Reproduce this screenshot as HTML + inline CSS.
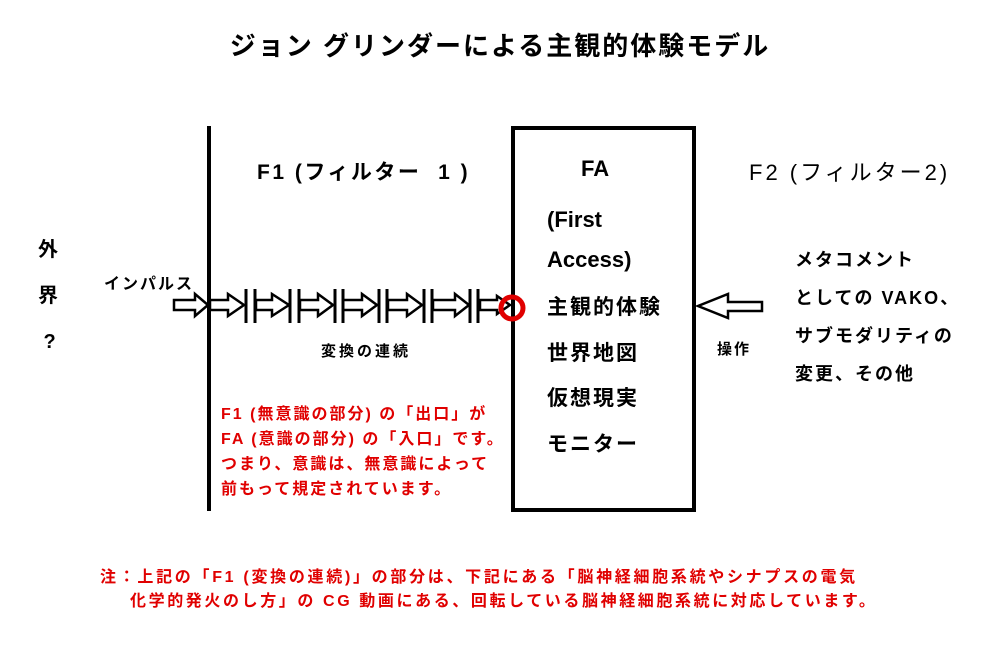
<!DOCTYPE html>
<html><head><meta charset="utf-8"><style>
body{margin:0;width:1000px;height:646px;background:#fff;position:relative;overflow:hidden;font-family:"Liberation Sans","Noto Sans CJK JP",sans-serif;font-weight:bold;color:#000}
.t{position:absolute;white-space:nowrap}
.r{color:#e00000}
</style></head><body>
<div class="t" style="left:0;width:1000px;text-align:center;top:26px;font-size:26px;letter-spacing:2px">ジョン グリンダーによる主観的体験モデル</div>
<svg width="1000" height="646" style="position:absolute;left:0;top:0">
<rect x="513" y="128" width="181" height="382" fill="none" stroke="#000" stroke-width="4"/>
<line x1="209" y1="126" x2="209" y2="511" stroke="#000" stroke-width="4"/>
<g fill="#fff" stroke="#000" stroke-width="2.5">
<polygon points="174,300 195,300 195,294 208,305 195,316 195,310 174,310"/>
<polygon points="210,300 228,300 228,294 244,305 228,316 228,310 210,310"/>
<polygon points="256,300 272,300 272,294 289,305 272,316 272,310 256,310"/>
<polygon points="300,300 318,300 318,294 333,305 318,316 318,310 300,310"/>
<polygon points="343,300 362,300 362,294 377,305 362,316 362,310 343,310"/>
<polygon points="388,300 407,300 407,294 422,305 407,316 407,310 388,310"/>
<polygon points="433,300 455,300 455,294 469,305 455,316 455,310 433,310"/>
<polygon points="480,300 497,300 497,296 510,305 497,314 497,310 480,310"/>
<polygon points="762,302 728,302 728,294 698,306 728,318 728,311 762,311"/>
</g>
<g stroke="#000" stroke-width="3">
<line x1="246" y1="289" x2="246" y2="323"/><line x1="255" y1="289" x2="255" y2="323"/>
<line x1="290" y1="289" x2="290" y2="323"/><line x1="299" y1="289" x2="299" y2="323"/>
<line x1="335" y1="289" x2="335" y2="323"/><line x1="343" y1="289" x2="343" y2="323"/>
<line x1="379" y1="289" x2="379" y2="323"/><line x1="387" y1="289" x2="387" y2="323"/>
<line x1="424" y1="289" x2="424" y2="323"/><line x1="432" y1="289" x2="432" y2="323"/>
<line x1="470" y1="289" x2="470" y2="323"/><line x1="478" y1="289" x2="478" y2="323"/>
</g>
<circle cx="512" cy="308" r="11" fill="none" stroke="#e00000" stroke-width="5"/>
</svg>
<div class="t" style="left:38px;top:227px;font-size:20px;line-height:46px">外<br>界<br>&nbsp;?</div>
<div class="t" style="left:104px;top:270px;font-size:16px;letter-spacing:2px">インパルス</div>
<div class="t" style="left:257px;top:156px;font-size:21px;letter-spacing:2.5px">F1 (フィルター&nbsp; 1 )</div>
<div class="t" style="left:321px;top:340px;font-size:15px;letter-spacing:3px">変換の連続</div>
<div class="t" style="left:581px;top:156px;font-size:22px">FA</div>
<div class="t" style="left:547px;top:200px;font-size:22px;line-height:40px">(First<br>Access)</div>
<div class="t" style="left:547px;top:285px;font-size:21px;line-height:45.5px;letter-spacing:2px">主観的体験<br>世界地図<br>仮想現実<br>モニター</div>
<div class="t" style="left:749px;top:155px;font-size:22px;font-weight:normal;letter-spacing:3px">F2 (フィルター2)</div>
<div class="t" style="left:795px;top:241px;font-size:18px;line-height:38px;letter-spacing:2px">メタコメント<br>としての VAKO、<br>サブモダリティの<br>変更、その他</div>
<div class="t" style="left:717px;top:338px;font-size:15px;letter-spacing:2px">操作</div>
<div class="t r" style="left:221px;top:402px;font-size:16px;line-height:25px;letter-spacing:2px">F1 (無意識の部分) の「出口」が<br>FA (意識の部分) の「入口」です。<br>つまり、意識は、無意識によって<br>前もって規定されています。</div>
<div class="t r" style="left:100px;top:566px;font-size:16px;line-height:24px;letter-spacing:2.7px">注：上記の「F1 (変換の連続)」の部分は、下記にある「脳神経細胞系統やシナプスの電気</div>
<div class="t r" style="left:130px;top:590px;font-size:16px;line-height:24px;letter-spacing:2.6px">化学的発火のし方」の CG 動画にある、回転している脳神経細胞系統に対応しています。</div>
</body></html>
